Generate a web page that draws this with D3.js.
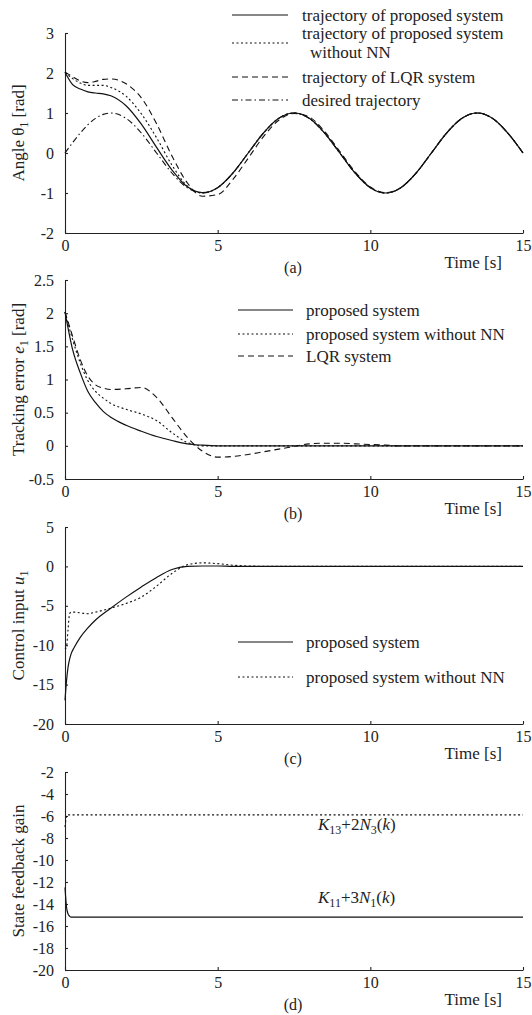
<!DOCTYPE html>
<html>
<head>
<meta charset="utf-8">
<script src="https://cdn.jsdelivr.net/npm/d3@7"></script>
<style>
  body { margin: 0; background: #fff; }
  svg { display: block; }
  text { font-family: "Liberation Serif", "Times New Roman", serif; fill: #222; }
</style>
</head>
<body>
<div id="chart"></div>
<script>
// ---- data ----
// (a) joint angle
var tA = [0,0.25,0.5,0.75,1,1.25,1.5,2,2.5,3,3.5,4,4.5,5,5.5,6,6.5,7,7.5,8,8.5,9,9.5,10,10.5,11,11.5,12,12.5,13,13.5,14,14.5,15];
var thDesired = [0,0.259,0.5,0.707,0.866,0.966,1,0.866,0.5,0,-0.5,-0.866,-1,-0.866,-0.5,0,0.5,0.866,1,0.866,0.5,0,-0.5,-0.866,-1,-0.866,-0.5,0,0.5,0.866,1,0.866,0.5,0];
var thProposed = [2.02,1.71,1.6,1.53,1.5,1.48,1.43,1.18,0.72,0.14,-0.42,-0.84,-0.99,-0.866,-0.5,0,0.5,0.866,1,0.866,0.5,0,-0.5,-0.866,-1,-0.866,-0.5,0,0.5,0.866,1,0.866,0.5,0];
var thNoNN = [2.02,1.86,1.75,1.69,1.69,1.69,1.64,1.42,0.98,0.38,-0.3,-0.82,-1.0,-0.866,-0.5,0,0.5,0.866,1,0.866,0.5,0,-0.5,-0.866,-1,-0.866,-0.5,0,0.5,0.866,1,0.866,0.5,0];
var thLQR = [2.02,1.91,1.8,1.76,1.79,1.84,1.85,1.73,1.38,0.73,-0.07,-0.74,-1.08,-1.04,-0.66,-0.13,0.41,0.82,0.99,0.9,0.54,0.04,-0.47,-0.85,-0.99,-0.866,-0.5,0,0.5,0.866,1,0.866,0.5,0];

// (b) tracking error
var tB = [0,0.25,0.5,0.75,1,1.25,1.5,2,2.5,3,3.5,4,4.5,5,5.5,6,6.5,7,7.5,8,8.5,9,9.5,10,10.5,11,12,15];
var eProposed = [2.02,1.45,1.1,0.82,0.65,0.52,0.43,0.31,0.22,0.14,0.08,0.03,0.01,0,0,0,0,0,0,0,0,0,0,0,0,0,0,0];
var eNoNN = [2.02,1.6,1.25,0.98,0.82,0.72,0.64,0.55,0.48,0.38,0.2,0.05,0,0,0,0,0,0,0,0,0,0,0,0,0,0,0,0];
var eLQR = [2.02,1.65,1.3,1.05,0.92,0.87,0.85,0.86,0.88,0.73,0.43,0.13,-0.08,-0.17,-0.16,-0.13,-0.09,-0.05,-0.01,0.03,0.04,0.04,0.03,0.02,0.01,0,0,0];

// (c) control input
var tC = [0,0.05,0.1,0.15,0.2,0.3,0.5,0.75,1,1.5,2,2.5,3,3.5,4,4.5,5,5.5,6,7,15];
var uProposed = [-17,-14.5,-12.8,-11.8,-11.1,-10.3,-9.0,-7.8,-6.8,-5.3,-3.9,-2.6,-1.4,-0.4,0,0.05,0.05,0,0,0,0];
var uNoNN = [-10.5,-10.2,-8,-6,-5.8,-5.8,-5.9,-6.0,-5.8,-5.3,-4.7,-3.9,-2.5,-0.9,0.2,0.45,0.35,0.15,0.05,0,0];

// (d) state feedback gains
var tK11 = [0,0.05,0.1,0.15,0.2,0.3,15];
var gainK11 = [-12.5,-14.3,-14.9,-15.1,-15.2,-15.2,-15.2];
var tK13 = [0,0.03,0.06,15];
var gainK13 = [-7.0,-6.3,-5.9,-5.9];

var xTicks = [0,5,10,15];
var yTicksA = [-2,-1,0,1,2,3];
var yTicksB = [-0.5,0,0.5,1,1.5,2,2.5];
var yTicksC = [-20,-15,-10,-5,0,5];
var yTicksD = [-20,-18,-16,-14,-12,-10,-8,-6,-4,-2];

function zip(t, v){ return t.map(function(d,i){ return [d, v[i]]; }); }

// ---- drawing ----
var svg = d3.select("#chart").append("svg").attr("width", 532).attr("height", 1015);
var x = d3.scaleLinear().domain([0,15]).range([65,523]);

var DASH = { solid: null, dot: "2,2.5", dash: "6,4", dashdot: "6,3,1.5,3" };

function panel(cfg){
  var y = d3.scaleLinear().domain(cfg.domain).range([cfg.bottom, cfg.top]);
  var g = svg.append("g");

  var xa = g.append("g").attr("transform", "translate(0," + cfg.bottom + ")")
    .call(d3.axisBottom(x).tickValues(xTicks).tickSizeInner(-3).tickSizeOuter(0).tickPadding(7).tickFormat(function(d){ return String(d); }));
  var ya = g.append("g").attr("transform", "translate(65,0)")
    .call(d3.axisLeft(y).tickValues(cfg.ticks).tickSizeInner(-3).tickSizeOuter(0).tickPadding(11).tickFormat(function(d){ return String(d); }));
  [xa, ya].forEach(function(a){
    a.attr("font-family", null);
    a.selectAll("text").style("font-size", "16px").attr("fill", "#222");
    a.selectAll("path,line").attr("stroke", "#222").attr("stroke-width", 1.1);
  });

  var line = d3.line().x(function(d){ return x(d[0]); }).y(function(d){ return y(d[1]); }).curve(d3.curveMonotoneX);
  cfg.series.forEach(function(s){
    g.append("path").datum(s.data).attr("d", line)
      .attr("fill", "none").attr("stroke", "#111").attr("stroke-width", s.style == "solid" ? 1.2 : 1.1)
      .attr("stroke-dasharray", DASH[s.style]);
  });

  // legend
  (cfg.legend || []).forEach(function(l){
    g.append("line").attr("x1", l.x1).attr("x2", l.x2).attr("y1", l.ly).attr("y2", l.ly)
      .attr("stroke", "#111").attr("stroke-width", 1.1).attr("stroke-dasharray", DASH[l.style]);
    l.text.forEach(function(tx){
      g.append("text").attr("x", tx[0]).attr("y", tx[1]).attr("dy", "0.35em")
        .style("font-size", "17px").text(tx[2]);
    });
  });

  // y label
  var lab = g.append("text").attr("transform", "translate(24," + ((cfg.top + cfg.bottom)/2) + ") rotate(-90)")
    .attr("text-anchor", "middle").style("font-size", "17px");
  cfg.ylabel.forEach(function(p){
    var ts = lab.append("tspan").text(p.t);
    if (p.it) ts.style("font-style", "italic");
    if (p.sub) ts.attr("dy", 4).style("font-size", "12px");
    if (p.up) ts.attr("dy", -4);
  });

  g.append("text").attr("x", 502).attr("y", cfg.bottom + 29).attr("dy", "0.35em")
    .attr("text-anchor", "end").style("font-size", "17px").text("Time [s]");
  g.append("text").attr("x", 293).attr("y", cfg.bottom + 34).attr("dy", "0.35em")
    .attr("text-anchor", "middle").style("font-size", "16px").text(cfg.tag);
  return { g: g, y: y };
}

panel({
  top: 33, bottom: 233, domain: [-2,3], ticks: yTicksA, tag: "(a)",
  ylabel: [{t:"Angle \u03b8"},{t:"1",sub:true},{t:" [rad]",up:true}],
  series: [
    {data: zip(tA, thDesired), style: "dashdot"},
    {data: zip(tA, thLQR), style: "dash"},
    {data: zip(tA, thNoNN), style: "dot"},
    {data: zip(tA, thProposed), style: "solid"}
  ],
  legend: [
    {x1:232, x2:288, ly:15, style:"solid", text:[[302,15,"trajectory of proposed system"]]},
    {x1:232, x2:288, ly:43, style:"dot", text:[[302,33,"trajectory of proposed system"],[310,52,"without NN"]]},
    {x1:232, x2:288, ly:77, style:"dash", text:[[302,77,"trajectory of LQR system"]]},
    {x1:232, x2:288, ly:100, style:"dashdot", text:[[302,100,"desired trajectory"]]}
  ]
});

panel({
  top: 280, bottom: 479, domain: [-0.5,2.5], ticks: yTicksB, tag: "(b)",
  ylabel: [{t:"Tracking error "},{t:"e",it:true},{t:"1",sub:true},{t:" [rad]",up:true}],
  series: [
    {data: zip(tB, eLQR), style: "dash"},
    {data: zip(tB, eNoNN), style: "dot"},
    {data: zip(tB, eProposed), style: "solid"}
  ],
  legend: [
    {x1:238, x2:293, ly:310, style:"solid", text:[[306,310,"proposed system"]]},
    {x1:238, x2:293, ly:334, style:"dot", text:[[306,334,"proposed system without NN"]]},
    {x1:238, x2:293, ly:356, style:"dash", text:[[306,356,"LQR system"]]}
  ]
});

panel({
  top: 527, bottom: 724, domain: [-20,5], ticks: yTicksC, tag: "(c)",
  ylabel: [{t:"Control input "},{t:"u",it:true},{t:"1",sub:true}],
  series: [
    {data: zip(tC, uNoNN), style: "dot"},
    {data: zip(tC, uProposed), style: "solid"}
  ],
  legend: [
    {x1:238, x2:293, ly:642, style:"solid", text:[[306,642,"proposed system"]]},
    {x1:238, x2:293, ly:677, style:"dot", text:[[306,677,"proposed system without NN"]]}
  ]
});

var pd = panel({
  top: 772, bottom: 970, domain: [-20,-2], ticks: yTicksD, tag: "(d)",
  ylabel: [{t:"State feedback gain"}],
  series: [
    {data: zip(tK13, gainK13), style: "dot"},
    {data: zip(tK11, gainK11), style: "solid"}
  ]
});

// gain annotations
function gainLabel(yv, parts){
  var t = pd.g.append("text").attr("x", 318).attr("y", yv).style("font-size", "17px");
  parts.forEach(function(p){
    var ts = t.append("tspan").text(p.t);
    if (p.it) ts.style("font-style", "italic");
    if (p.sub) ts.attr("dy", 4).style("font-size", "12px");
    if (p.up) ts.attr("dy", -4);
  });
}
gainLabel(830, [{t:"K",it:true},{t:"13",sub:true},{t:"+2",up:true},{t:"N",it:true},{t:"3",sub:true},{t:"(",up:true},{t:"k",it:true},{t:")"}]);
gainLabel(903, [{t:"K",it:true},{t:"11",sub:true},{t:"+3",up:true},{t:"N",it:true},{t:"1",sub:true},{t:"(",up:true},{t:"k",it:true},{t:")"}]);
</script>
</body>
</html>
